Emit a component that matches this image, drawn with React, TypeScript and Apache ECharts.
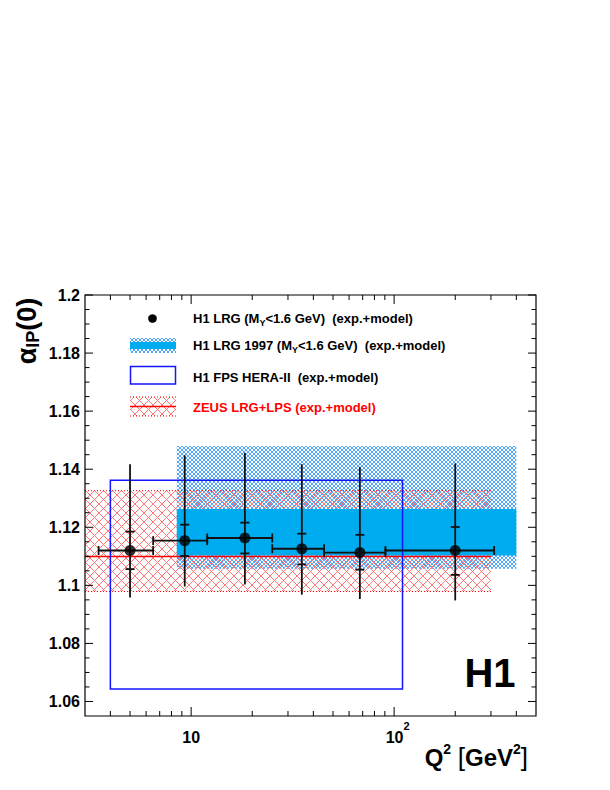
import React, { useEffect, useRef } from "react";
import * as echarts from "echarts";

const FONT = "'Liberation Sans', Arial, Helvetica, sans-serif";

// ---------- data ----------
// H1 LRG (M_Y < 1.6 GeV) points
const lrgQ2 = [5.0, 9.3, 18.4, 35.1, 67.8, 200];
const lrgQ2Low = [3.5, 6.5, 12.0, 25.1, 45.2, 90.6];
const lrgQ2High = [6.5, 12.0, 25.1, 45.2, 90.6, 311];
const lrgAlpha = [1.112, 1.1154, 1.1163, 1.1126, 1.1113, 1.112];
const lrgExpUp = [1.1185, 1.1209, 1.1216, 1.1178, 1.1174, 1.1201];
const lrgExpDown = [1.1056, 1.1101, 1.111, 1.1072, 1.1054, 1.1036];
const lrgTotUp = [1.1417, 1.1448, 1.1456, 1.1417, 1.1408, 1.142];
const lrgTotDown = [1.0958, 1.0996, 1.1003, 1.0968, 1.0953, 1.0948];

// H1 LRG 1997 band
const lrg97Q2Range = [8.5, 400];
const lrg97TotalRange = [1.1057, 1.148];
const lrg97ExpRange = [1.1103, 1.1263];

// H1 FPS HERA-II box
const fpsQ2Range = [4.0, 110];
const fpsAlphaRange = [1.0643, 1.1362];

// ZEUS LRG+LPS band
const zeusQ2Range = [2.5, 300];
const zeusAlphaRange = [1.0979, 1.1326];
const zeusAlpha = [1.1099];

// axes
const xRange = [3, 500];
const yRange = [1.055, 1.2];
const xMajorTicks = [10, 100];
const xMinorTicks = [4, 5, 6, 7, 8, 9, 20, 30, 40, 50, 60, 70, 80, 90, 200, 300, 400];
const yMajorTicks = [1.06, 1.08, 1.1, 1.12, 1.14, 1.16, 1.18, 1.2];
const yMinorTicks = [
  1.065, 1.07, 1.075, 1.085, 1.09, 1.095, 1.105, 1.11, 1.115, 1.125, 1.13, 1.135,
  1.145, 1.15, 1.155, 1.165, 1.17, 1.175, 1.185, 1.19, 1.195,
];

// colours
const BLUE_HATCH = "rgb(80,165,250)";
const BLUE_SOLID = "rgb(0,172,240)";
const RED_HATCH = "rgb(255,120,120)";
const RED = "rgb(255,0,0)";
const FPS_BLUE = "rgb(20,20,255)";

const lg = Math.log10;

function hatchLines(x0: number, y0: number, x1: number, y1: number, s: number, stroke: string, lw: number) {
  const out: any[] = [];
  let c = Math.ceil((x0 + y0) / s) * s;
  for (; c <= x1 + y1; c += s) {
    const lo = Math.max(x0, c - y1);
    const hi = Math.min(x1, c - y0);
    if (hi > lo) out.push({ type: "line", shape: { x1: lo, y1: c - lo, x2: hi, y2: c - hi }, style: { stroke, lineWidth: lw } });
  }
  c = Math.ceil((x0 - y1) / s) * s;
  for (; c <= x1 - y0; c += s) {
    const lo = Math.max(x0, c + y0);
    const hi = Math.min(x1, c + y1);
    if (hi > lo) out.push({ type: "line", shape: { x1: lo, y1: lo - c, x2: hi, y2: hi - c }, style: { stroke, lineWidth: lw } });
  }
  return out;
}

function rectFrom(params: any, api: any) {
  const cs = params.coordSys;
  const a = api.coord([api.value(0), api.value(2)]);
  const b = api.coord([api.value(1), api.value(3)]);
  const x0 = Math.max(Math.min(a[0], b[0]), cs.x);
  const x1 = Math.min(Math.max(a[0], b[0]), cs.x + cs.width);
  const y0 = Math.max(Math.min(a[1], b[1]), cs.y);
  const y1 = Math.min(Math.max(a[1], b[1]), cs.y + cs.height);
  return { x0, x1, y0, y1 };
}

function buildOption(): any {
  const lrg97Hatch = [[lg(lrg97Q2Range[0]), lg(lrg97Q2Range[1]), lrg97TotalRange[0], lrg97TotalRange[1]]];
  const lrg97Solid = [[lg(lrg97Q2Range[0]), lg(lrg97Q2Range[1]), lrg97ExpRange[0], lrg97ExpRange[1]]];
  const zeusBand = [[lg(zeusQ2Range[0]), lg(zeusQ2Range[1]), zeusAlphaRange[0], zeusAlphaRange[1]]];
  const zeusLine = [[lg(zeusQ2Range[0]), lg(zeusQ2Range[1]), zeusAlpha[0], zeusAlpha[0]]];
  const fpsBox = [[lg(fpsQ2Range[0]), lg(fpsQ2Range[1]), fpsAlphaRange[0], fpsAlphaRange[1]]];
  const errData = lrgQ2.map((q, i) => [
    lg(q), lg(lrgQ2Low[i]), lg(lrgQ2High[i]), lrgAlpha[i], lrgExpDown[i], lrgExpUp[i], lrgTotDown[i], lrgTotUp[i],
  ]);
  const pointData = lrgQ2.map((q, i) => [lg(q), lrgAlpha[i]]);
  const tickData: number[][] = [];
  xMajorTicks.forEach((v) => tickData.push([lg(v), 0, 1]));
  xMinorTicks.forEach((v) => tickData.push([lg(v), 0, 0]));
  yMajorTicks.forEach((v) => tickData.push([v, 1, 1]));
  yMinorTicks.forEach((v) => tickData.push([v, 1, 0]));

  const xMin = lg(xRange[0]);
  const xMax = lg(xRange[1]);

  const labelRich = {
    n: { fontSize: 16, fontWeight: "bold", fontFamily: FONT, color: "#000", lineHeight: 34 },
    s: { fontSize: 11, fontWeight: "bold", fontFamily: FONT, color: "#000", lineHeight: 11, verticalAlign: "top" },
    p: { fontSize: 11, width: 7, lineHeight: 11 },
  };

  const legRich = {
    b: { fontSize: 13, fontWeight: "bold", fontFamily: FONT, fill: "#000", lineHeight: 18 },
    sub: { fontSize: 9, fontWeight: "bold", fontFamily: FONT, fill: "#000", lineHeight: 9, verticalAlign: "bottom" },
    r: { fontSize: 13, fontWeight: "bold", fontFamily: FONT, fill: RED, lineHeight: 18 },
  };

  const graphic: any[] = [
    // legend markers
    { type: "circle", shape: { cx: 152.5, cy: 318.5, r: 4.3 }, style: { fill: "#000" } },
    { type: "group", children: hatchLines(130, 338, 176, 353, 4, BLUE_HATCH, 1) },
    { type: "rect", shape: { x: 130, y: 342, width: 46, height: 7 }, style: { fill: BLUE_SOLID } },
    { type: "rect", shape: { x: 130.5, y: 366.5, width: 45, height: 17.5 }, style: { fill: "none", stroke: FPS_BLUE, lineWidth: 1.5 } },
    { type: "group", children: hatchLines(130, 397, 176, 416, 9, RED_HATCH, 1) },
    { type: "line", shape: { x1: 130, y1: 397, x2: 176, y2: 397 }, style: { stroke: RED, lineWidth: 1, lineDash: [1, 2] } },
    { type: "line", shape: { x1: 130, y1: 416, x2: 176, y2: 416 }, style: { stroke: RED, lineWidth: 1, lineDash: [1, 2] } },
    { type: "line", shape: { x1: 130, y1: 406.5, x2: 176, y2: 406.5 }, style: { stroke: RED, lineWidth: 1.5 } },
    // legend texts
    { type: "text", x: 193, y: 318, style: { text: "{b|H1 LRG (M}{sub|Y}{b|<1.6 GeV)  (exp.+model)}", rich: legRich, align: "left", verticalAlign: "middle" } },
    { type: "text", x: 193, y: 345, style: { text: "{b|H1 LRG 1997 (M}{sub|Y}{b|<1.6 GeV)  (exp.+model)}", rich: legRich, align: "left", verticalAlign: "middle" } },
    { type: "text", x: 193, y: 377, style: { text: "{b|H1 FPS HERA-II  (exp.+model)}", rich: legRich, align: "left", verticalAlign: "middle" } },
    { type: "text", x: 193, y: 407, style: { text: "{r|ZEUS LRG+LPS (exp.+model)}", rich: legRich, align: "left", verticalAlign: "middle" } },
    // axis titles
    {
      type: "text", x: 27, y: 331, rotation: Math.PI / 2,
      style: {
        text: "{a|α}{s|IP}{a|(0)}", align: "center", verticalAlign: "middle",
        rich: {
          a: { fontSize: 27, fontWeight: "bold", fontFamily: FONT, fill: "#000", lineHeight: 30 },
          s: { fontSize: 18, fontWeight: "bold", fontFamily: FONT, fill: "#000", lineHeight: 14, verticalAlign: "bottom" },
        },
      },
    },
    {
      type: "text", x: 528, y: 757,
      style: {
        text: "{q|Q}{s|2}{q| }{t|[}{q|GeV}{s|2}{t|]}", align: "right", verticalAlign: "middle",
        rich: {
          q: { fontSize: 24, fontWeight: "bold", fontFamily: FONT, fill: "#000", lineHeight: 30 },
          t: { fontSize: 26, fontWeight: "normal", fontFamily: FONT, fill: "#000", lineHeight: 30 },
          s: { fontSize: 14, fontWeight: "bold", fontFamily: FONT, fill: "#000", lineHeight: 13, verticalAlign: "top" },
        },
      },
    },
    { type: "text", x: 490, y: 673, style: { text: "H1", fontSize: 40, fontWeight: "bold", fontFamily: FONT, fill: "#000", align: "center", verticalAlign: "middle" } },
  ];

  return {
    animation: false,
    backgroundColor: "#fff",
    grid: { left: 85, top: 295, width: 451, height: 421, show: false },
    xAxis: {
      type: "value", min: xMin, max: xMax,
      axisLine: { show: false }, axisTick: { show: false }, splitLine: { show: false },
      axisLabel: {
        customValues: xMajorTicks.map((v) => lg(v)),
        margin: 4,
        formatter: (v: number) => (Math.abs(v - 1) < 1e-9 ? "{n|10}" : "{p| }{n|10}{s|2}"),
        rich: labelRich,
      },
    },
    yAxis: {
      type: "value", min: yRange[0], max: yRange[1],
      axisLine: { show: false }, axisTick: { show: false }, splitLine: { show: false },
      axisLabel: {
        customValues: yMajorTicks,
        margin: 5,
        fontSize: 16, fontWeight: "bold", fontFamily: FONT, color: "#000",
        formatter: (v: number) => String(Number(v.toFixed(2))),
      },
    },
    graphic,
    series: [
      {
        type: "custom", name: "H1 LRG 1997 total", z: 1, silent: true, data: lrg97Hatch,
        renderItem: (params: any, api: any) => {
          const r = rectFrom(params, api);
          return { type: "group", children: hatchLines(r.x0, r.y0, r.x1, r.y1, 4, BLUE_HATCH, 1) };
        },
      },
      {
        type: "custom", name: "ZEUS band", z: 2, silent: true, data: zeusBand,
        renderItem: (params: any, api: any) => {
          const r = rectFrom(params, api);
          const ch = hatchLines(r.x0, r.y0, r.x1, r.y1, 9, RED_HATCH, 1);
          ch.push({ type: "line", shape: { x1: r.x0, y1: r.y0, x2: r.x1, y2: r.y0 }, style: { stroke: RED, lineWidth: 1, lineDash: [1, 2] } });
          ch.push({ type: "line", shape: { x1: r.x0, y1: r.y1, x2: r.x1, y2: r.y1 }, style: { stroke: RED, lineWidth: 1, lineDash: [1, 2] } });
          return { type: "group", children: ch };
        },
      },
      {
        type: "custom", name: "H1 LRG 1997 exp", z: 3, silent: true, data: lrg97Solid,
        renderItem: (params: any, api: any) => {
          const r = rectFrom(params, api);
          return { type: "rect", shape: { x: r.x0, y: r.y0, width: r.x1 - r.x0, height: r.y1 - r.y0 }, style: { fill: BLUE_SOLID } };
        },
      },
      {
        type: "custom", name: "ZEUS central", z: 4, silent: true, data: zeusLine,
        renderItem: (params: any, api: any) => {
          const r = rectFrom(params, api);
          return { type: "line", shape: { x1: r.x0, y1: r.y0, x2: r.x1, y2: r.y0 }, style: { stroke: RED, lineWidth: 1.5 } };
        },
      },
      {
        type: "custom", name: "H1 FPS HERA-II", z: 5, silent: true, data: fpsBox,
        renderItem: (params: any, api: any) => {
          const r = rectFrom(params, api);
          return { type: "rect", shape: { x: r.x0, y: r.y0, width: r.x1 - r.x0, height: r.y1 - r.y0 }, style: { fill: "none", stroke: FPS_BLUE, lineWidth: 1.5 } };
        },
      },
      {
        type: "custom", name: "H1 LRG errors", z: 6, silent: true, data: errData,
        renderItem: (params: any, api: any) => {
          const c = api.coord([api.value(0), api.value(3)]);
          const l = api.coord([api.value(1), api.value(3)]);
          const h = api.coord([api.value(2), api.value(3)]);
          const eD = api.coord([api.value(0), api.value(4)]);
          const eU = api.coord([api.value(0), api.value(5)]);
          const tD = api.coord([api.value(0), api.value(6)]);
          const tU = api.coord([api.value(0), api.value(7)]);
          const st = { stroke: "#111", lineWidth: 1.8 };
          return {
            type: "group",
            children: [
              { type: "line", shape: { x1: l[0], y1: c[1], x2: h[0], y2: c[1] }, style: st },
              { type: "line", shape: { x1: l[0], y1: c[1] - 4.5, x2: l[0], y2: c[1] + 4.5 }, style: st },
              { type: "line", shape: { x1: h[0], y1: c[1] - 4.5, x2: h[0], y2: c[1] + 4.5 }, style: st },
              { type: "line", shape: { x1: c[0], y1: tU[1], x2: c[0], y2: tD[1] }, style: st },
              { type: "line", shape: { x1: c[0] - 4.5, y1: eU[1], x2: c[0] + 4.5, y2: eU[1] }, style: st },
              { type: "line", shape: { x1: c[0] - 4.5, y1: eD[1], x2: c[0] + 4.5, y2: eD[1] }, style: st },
            ],
          };
        },
      },
      {
        type: "scatter", name: "H1 LRG", z: 7, silent: true, data: pointData,
        symbol: "circle", symbolSize: 11, itemStyle: { color: "#000" },
      },
      {
        type: "custom", name: "ticks", z: 10, silent: true, data: tickData,
        renderItem: (params: any, api: any) => {
          const cs = params.coordSys;
          const v = api.value(0);
          const isY = api.value(1) === 1;
          const major = api.value(2) === 1;
          const st = { stroke: "#000", lineWidth: 1 };
          const children: any[] = [];
          if (!isY) {
            const p = api.coord([v, yRange[0]]);
            const len = major ? 9 : 5;
            const top = cs.y;
            const bot = cs.y + cs.height;
            children.push({ type: "line", shape: { x1: p[0], y1: bot, x2: p[0], y2: bot - len }, style: st });
            children.push({ type: "line", shape: { x1: p[0], y1: top, x2: p[0], y2: top + len }, style: st });
          } else {
            const p = api.coord([xMin, v]);
            const len = major ? 8 : 4.5;
            const left = cs.x;
            const right = cs.x + cs.width;
            children.push({ type: "line", shape: { x1: left, y1: p[1], x2: left + len, y2: p[1] }, style: st });
            children.push({ type: "line", shape: { x1: right, y1: p[1], x2: right - len, y2: p[1] }, style: st });
          }
          if (params.dataIndex === 0) {
            children.push({ type: "rect", shape: { x: cs.x, y: cs.y, width: cs.width, height: cs.height }, style: { fill: "none", stroke: "#000", lineWidth: 1.2 } });
          }
          return { type: "group", children };
        },
      },
    ],
  };
}

export default function App() {
  const ref = useRef<HTMLDivElement>(null);
  useEffect(() => {
    if (!ref.current) return;
    const chart = echarts.init(ref.current, null, { renderer: "svg" });
    chart.setOption(buildOption());
    return () => chart.dispose();
  }, []);
  return <div ref={ref} style={{ position: "fixed", left: 0, top: 0, width: 610, height: 790, background: "#fff" }} />;
}
